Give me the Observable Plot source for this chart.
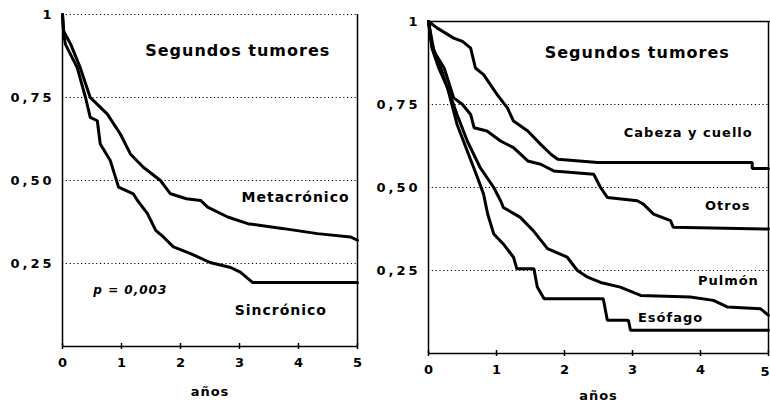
<!DOCTYPE html>
<html>
<head>
<meta charset="utf-8">
<script src="https://cdn.jsdelivr.net/npm/d3@7"></script>
<script src="https://cdn.jsdelivr.net/npm/@observablehq/plot@0.6"></script>
<style>
  html, body { margin: 0; padding: 0; background: #fff; }
  #wrap { position: relative; width: 770px; height: 403px; overflow: hidden; }
  #left, #right { position: absolute; top: 0; }
  #left { left: 0; }
  #right { left: 360px; }
  svg { background: transparent !important; }
  svg text { font-family: "DejaVu Sans", sans-serif; }
  g[aria-label="y-axis tick label"] text { letter-spacing: 3px; }
  g[aria-label="text"] text { letter-spacing: 1px; }
</style>
</head>
<body>
<div id="wrap"><div id="left"></div><div id="right"></div></div>
<script>
// ---- data (years, survival proportion) ----
const yearTicks = [0, 1, 2, 3, 4, 5];
const survTicks = [0.25, 0.5, 0.75, 1];
const panelTitle = "Segundos tumores";
const xLabel = "años";

const metaT = [0, 0.02, 0.14, 0.3, 0.47, 0.53, 0.76, 0.98, 1.15, 1.37, 1.66, 1.83, 2.1, 2.34, 2.46, 2.8, 3.14, 3.75, 4.32, 4.88, 5];
const metaS = [1, 0.95, 0.91, 0.84, 0.75, 0.74, 0.70, 0.64, 0.58, 0.54, 0.50, 0.46, 0.445, 0.44, 0.42, 0.39, 0.37, 0.355, 0.34, 0.33, 0.32];

const sincT = [0, 0.02, 0.05, 0.25, 0.39, 0.47, 0.59, 0.64, 0.81, 0.95, 1.2, 1.27, 1.44, 1.58, 1.71, 1.88, 2.17, 2.5, 2.85, 3.02, 3.22, 5];
const sincS = [1, 0.94, 0.91, 0.84, 0.75, 0.69, 0.68, 0.61, 0.56, 0.48, 0.46, 0.44, 0.40, 0.35, 0.33, 0.30, 0.28, 0.253, 0.238, 0.223, 0.193, 0.193];

const cabT = [0, 0.13, 0.37, 0.5, 0.62, 0.69, 0.81, 1.01, 1.16, 1.25, 1.46, 1.65, 1.8, 1.9, 2.49, 4.76, 4.76, 5];
const cabS = [1, 0.98, 0.95, 0.94, 0.92, 0.86, 0.84, 0.78, 0.74, 0.70, 0.67, 0.63, 0.60, 0.585, 0.575, 0.575, 0.557, 0.557];

const otrT = [0, 0.08, 0.23, 0.37, 0.5, 0.62, 0.67, 0.86, 1.06, 1.25, 1.46, 1.65, 1.84, 2.43, 2.53, 2.63, 3.07, 3.16, 3.31, 3.56, 3.6, 5];
const otrS = [1, 0.91, 0.86, 0.77, 0.75, 0.72, 0.68, 0.67, 0.64, 0.62, 0.58, 0.57, 0.55, 0.54, 0.50, 0.47, 0.46, 0.45, 0.42, 0.40, 0.38, 0.375];

const pulT = [0, 0.05, 0.18, 0.28, 0.42, 0.57, 0.76, 0.96, 1.06, 1.1, 1.35, 1.54, 1.75, 2.04, 2.19, 2.34, 2.53, 2.82, 3.12, 3.85, 4.19, 4.4, 4.88, 5];
const pulS = [1, 0.93, 0.86, 0.80, 0.72, 0.64, 0.56, 0.50, 0.46, 0.44, 0.41, 0.37, 0.316, 0.29, 0.25, 0.23, 0.214, 0.20, 0.175, 0.17, 0.16, 0.14, 0.135, 0.115];

const esoT = [0, 0.05, 0.15, 0.28, 0.42, 0.57, 0.72, 0.81, 0.87, 0.96, 1.1, 1.25, 1.3, 1.55, 1.6, 1.7, 2.57, 2.63, 2.94, 2.97, 5];
const esoS = [1, 0.92, 0.86, 0.80, 0.69, 0.61, 0.53, 0.48, 0.42, 0.36, 0.33, 0.29, 0.255, 0.255, 0.20, 0.165, 0.165, 0.10, 0.10, 0.07, 0.07];

const rows = (T, S) => T.map((t, i) => ({t, s: S[i]}));
const fmtY = d => d === 1 ? "1" : d.toFixed(2).replace(".", ",");

const tickFont = {fontSize: 13, fontWeight: "bold"};
const curve = {x: "t", y: "s", stroke: "#000", strokeWidth: 3, strokeLinejoin: "miter"};
const lbl = (size) => ({text: d => d, fontSize: size, fontWeight: "bold"});

function commonMarks(gridTicks, xTickVals) {
  return [
    Plot.ruleY(gridTicks, {y: d => d, x1: 0, x2: 5, stroke: "#000", strokeWidth: 1, strokeDasharray: "1.2,2.6"}),
    Plot.axisY(survTicks, {tickSize: 0, tickPadding: 8, tickFormat: fmtY, ...tickFont, label: null}),
    Plot.axisX(xTickVals, {tickSize: 0, tickPadding: 11, tickFormat: d => String(d), ...tickFont, label: null}),
    Plot.ruleX(yearTicks, {x: d => d, y1: -0.009, y2: 0.009, stroke: "#000", strokeWidth: 1.5}),
    Plot.ruleX([0, 5], {x: d => d, y1: 0, y2: 1, stroke: "#000", strokeWidth: 1.5}),
    Plot.ruleY([0], {y: d => d, x1: 0, x2: 5, stroke: "#000", strokeWidth: 1.5}),
  ];
}

const leftPlot = Plot.plot({
  width: 380, height: 403,
  marginLeft: 62, marginRight: 23, marginTop: 14, marginBottom: 57,
  x: {domain: [0, 5], axis: null},
  y: {domain: [0, 1], axis: null},
  marks: [
    ...commonMarks([0.25, 0.5, 0.75, 1], yearTicks),
    Plot.line(rows(metaT, metaS), curve),
    Plot.line(rows(sincT, sincS), curve),
    Plot.text([panelTitle], {x: 2.97, y: 0.89, ...lbl(16)}),
    Plot.text(["Metacrónico"], {x: 3.95, y: 0.449, ...lbl(14)}),
    Plot.text(["Sincrónico"], {x: 3.7, y: 0.108, ...lbl(14)}),
    Plot.text(["p = 0,003"], {x: 1.15, y: 0.169, ...lbl(12), fontStyle: "italic"}),
    Plot.text([xLabel], {x: 2.5, y: 0, dy: 45, ...lbl(13)})
  ]
});

const rightPlot = Plot.plot({
  width: 410, height: 403,
  marginLeft: 68, marginRight: 2, marginTop: 21, marginBottom: 50,
  x: {domain: [0, 5], axis: null},
  y: {domain: [0, 1], axis: null},
  marks: [
    ...commonMarks([0.25, 0.5, 0.75], yearTicks.slice(0, -1)),
    Plot.text(yearTicks.slice(-1), {x: d => d, y: 0, dy: 18, text: d => String(d), textAnchor: "end", dx: 2, fontSize: 13, fontWeight: "bold"}),
    Plot.ruleY([1], {y: d => d, x1: 0, x2: 5.1, stroke: "#000", strokeWidth: 1.5}),
    Plot.line(rows(cabT, cabS), curve),
    Plot.line(rows(otrT, otrS), curve),
    Plot.line(rows(pulT, pulS), curve),
    Plot.line(rows(esoT, esoS), curve),
    Plot.text([panelTitle], {x: 3.07, y: 0.907, ...lbl(16)}),
    Plot.text(["Cabeza y cuello"], {x: 3.82, y: 0.666, ...lbl(13)}),
    Plot.text(["Otros"], {x: 4.4, y: 0.446, ...lbl(13)}),
    Plot.text(["Pulmón"], {x: 4.41, y: 0.22, ...lbl(13)}),
    Plot.text(["Esófago"], {x: 3.56, y: 0.108, ...lbl(13)}),
    Plot.text([xLabel], {x: 2.5, y: 0, dy: 42, ...lbl(13)})
  ]
});

document.getElementById("left").appendChild(leftPlot);
document.getElementById("right").appendChild(rightPlot);
</script>
</body>
</html>
